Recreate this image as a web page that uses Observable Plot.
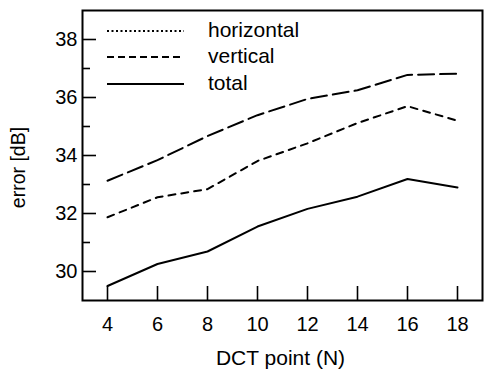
<!DOCTYPE html>
<html>
<head>
<meta charset="utf-8">
<script src="https://cdn.jsdelivr.net/npm/d3@7"></script>
<script src="https://cdn.jsdelivr.net/npm/@observablehq/plot@0.6"></script>
<style>
  html, body { margin: 0; padding: 0; background: #fff; }
  #wrap { position: relative; width: 484px; height: 372px; font-family: "Liberation Sans", Arial, sans-serif; }
  .lg-row { position: absolute; left: 107px; height: 27px; width: 220px; font-size: 21px; color: #000; }
  .lg-row svg { position: absolute; left: 0; top: 10px; width: 77px; height: 10px; }
  .lg-row span { position: absolute; left: 101px; top: 0; line-height: 27px; white-space: nowrap; }
</style>
</head>
<body>
<div id="wrap"></div>
<script>
const xs = [4, 6, 8, 10, 12, 14, 16, 18];
const horizontal = [31.87, 32.56, 32.84, 33.81, 34.42, 35.12, 35.7, 35.2];
const vertical = [33.13, 33.84, 34.67, 35.39, 35.95, 36.25, 36.78, 36.82];
const total = [29.5, 30.26, 30.69, 31.55, 32.16, 32.58, 33.19, 32.9];
const xTicks = [4, 6, 8, 10, 12, 14, 16, 18];
const yMajor = [30, 32, 34, 36, 38];
const yMinor = [31, 33, 35, 37];
const xLabel = "DCT point (N)";
const yLabel = "error [dB]";

const seriesNames = ["horizontal", "vertical", "total"];
const seriesValues = [horizontal, vertical, total];
const dashes = {horizontal: "7,6", vertical: "16,6", total: null};
const legendDashes = {horizontal: "2,2.5", vertical: "7,4", total: null};

const rows = seriesNames.flatMap((s, i) => xs.map((x, j) => ({series: s, x, y: seriesValues[i][j]})));

const font = "Liberation Sans, Arial, sans-serif";
const chart = Plot.plot({
  width: 484,
  height: 372,
  marginLeft: 82,
  marginRight: 2,
  marginTop: 10,
  marginBottom: 72,
  style: {fontFamily: font, fontSize: "20px", color: "#000", background: "#fff"},
  x: {domain: [3, 19]},
  y: {domain: [29, 39]},
  marks: [
    Plot.axisY(yMajor, {tickSize: 0, tickPadding: 5, fontSize: 20, label: null}),
    Plot.axisY(yMajor, {tickSize: -14, text: null, label: null, strokeWidth: 1.6}),
    Plot.axisY(yMinor, {tickSize: -8, text: null, label: null, strokeWidth: 1.6}),
    Plot.axisX(xTicks, {tickSize: 0, tickPadding: 16, fontSize: 20, label: null}),
    Plot.axisX(xTicks, {tickSize: -14, text: null, label: null, strokeWidth: 1.6}),
    Plot.text([yLabel], {frameAnchor: "left", textAnchor: "middle", rotate: -90, dx: -64, dy: 12, fontSize: 19.5, text: d => d, lineAnchor: "middle", fill: "#000"}),
    Plot.text([xLabel], {frameAnchor: "bottom", textAnchor: "middle", dy: 58, dx: -2, fontSize: 21, text: d => d, lineAnchor: "middle", fill: "#000"}),
    ...seriesNames.map(s => Plot.line(rows.filter(d => d.series === s), {
      x: "x", y: "y", stroke: "#000", strokeWidth: 2,
      strokeDasharray: dashes[s]
    })),
    Plot.frame({stroke: "#000", strokeWidth: 2})
  ]
});
const wrap = document.getElementById("wrap");
wrap.appendChild(chart);

seriesNames.forEach((s, i) => {
  const row = document.createElement("div");
  row.className = "lg-row";
  row.style.top = (15.5 + 26.5 * i) + "px";
  const dash = legendDashes[s] ? `stroke-dasharray="${legendDashes[s]}"` : "";
  row.innerHTML = `<svg viewBox="0 0 77 10"><line x1="0" y1="5" x2="77" y2="5" stroke="#000" stroke-width="2" ${dash}/></svg><span>${s}</span>`;
  wrap.appendChild(row);
});
</script>
</body>
</html>
